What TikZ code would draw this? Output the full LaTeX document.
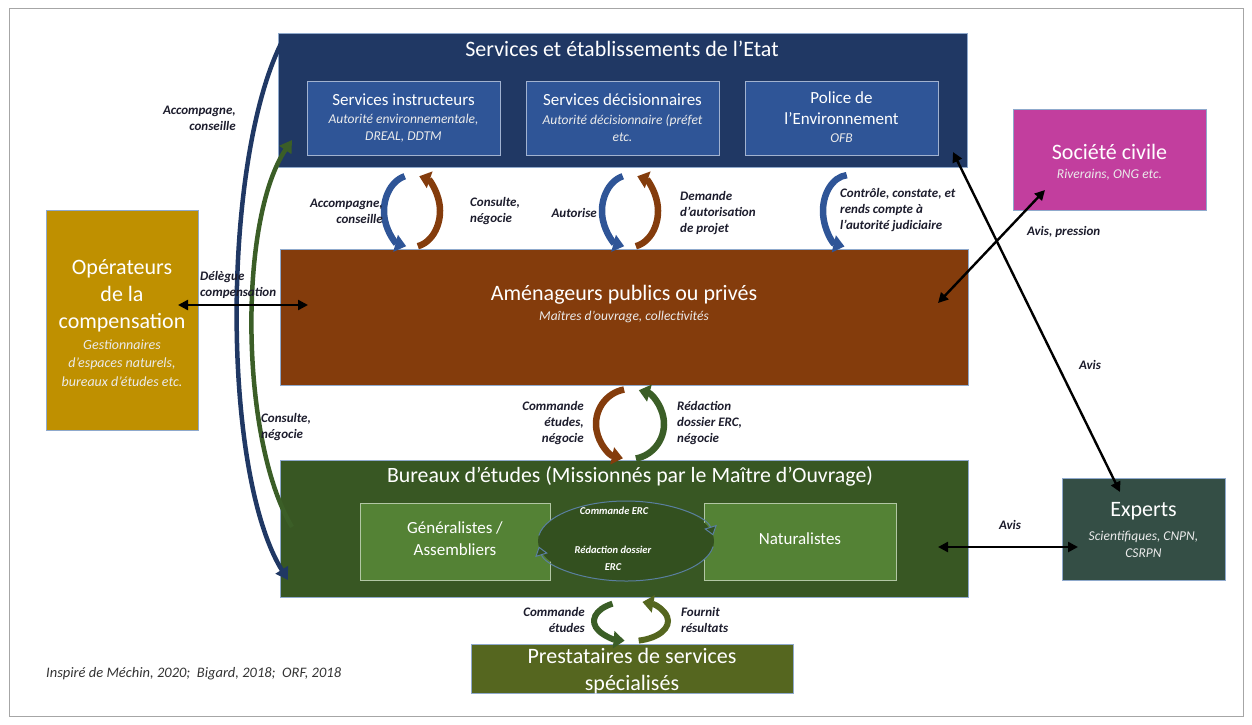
\documentclass[tikz,border=0pt]{standalone}
\usepackage{fontspec}
\setmainfont{Carlito}
\usetikzlibrary{arrows.meta}
\definecolor{navy}{HTML}{203864}
\definecolor{subblue}{HTML}{2F5597}
\definecolor{brownA}{HTML}{843C0C}
\definecolor{gold}{HTML}{BF9000}
\definecolor{darkgreen}{HTML}{385723}
\definecolor{arcgreen}{HTML}{3B5E27}
\definecolor{midgreen}{HTML}{548235}
\definecolor{olive}{HTML}{55661F}
\definecolor{magentaS}{HTML}{C23E9E}
\definecolor{slateE}{HTML}{344E45}
\definecolor{labc}{HTML}{1C1C2C}
\definecolor{edgec}{HTML}{8FA9CC}
\definecolor{ringc}{HTML}{5A7FA0}
\definecolor{ellfill}{HTML}{33501F}
\begin{document}
\begin{tikzpicture}[x=1pt,y=-1pt,
  box/.style={draw=edgec, line width=0.6pt, inner sep=0pt},
  subbox/.style={draw=white!55!subblue, line width=0.8pt, fill=subblue, inner sep=0pt, minimum width=193pt, minimum height=74pt},
  greenbox/.style={draw=white!55!midgreen, line width=0.8pt, fill=midgreen, inner sep=0pt},
  ttl/.style={text=white, inner sep=0pt, align=center},
  sub/.style={text=white!92!black, inner sep=0pt, align=center, font=\fontsize{13.5}{17}\selectfont\itshape},
  lab/.style={font=\fontsize{13}{16}\selectfont\bfseries\itshape, text=labc, inner sep=0pt},
  circarr/.style={line width=6.5pt, -{Triangle[width=17pt,length=11pt]}},
  bigarr/.style={line width=4.5pt, -{Triangle[width=14pt,length=12pt]}},
  blackarr/.style={line width=2.4pt, {Triangle[width=10pt,length=10pt]}-{Triangle[width=10pt,length=10pt]}},
  ringarr/.style={draw=ringc, line width=1pt, -{Triangle[width=13pt,length=9pt,fill=ellfill]}}
]
\useasboundingbox (0,0) rectangle (1252,724);
\draw[gray!70, line width=0.8pt] (9,8) rectangle (1243,716);

% ---- Etat
\node[box, fill=navy, minimum width=689pt, minimum height=134pt] (etat) at (622.5,100) {};
\node[ttl, font=\fontsize{22}{26}\selectfont] (etatT) at (622,49) {Services et établissements de l’Etat};
\node[subbox] (si) at (403.5,118) {};
\node[subbox] (sd) at (622.5,118) {};
\node[subbox] (pe) at (841.5,118) {};
\node[ttl, font=\fontsize{17}{21}\selectfont] (siT) at (403.5,100) {Services instructeurs};
\node[sub] (siS) at (403.5,128) {Autorité environnementale,\\DREAL, DDTM};
\node[ttl, font=\fontsize{17}{21}\selectfont] (sdT) at (622.5,100) {Services décisionnaires};
\node[sub] (sdS) at (622.5,128) {Autorité décisionnaire (préfet\\etc.};
\node[ttl, font=\fontsize{17}{21}\selectfont] (peT) at (841.5,108) {Police de\\l’Environnement};
\node[sub] (peS) at (841.5,138) {OFB};

% ---- Amenageurs
\node[box, fill=brownA, minimum width=688pt, minimum height=136pt] (amen) at (624,317) {};
\node[ttl, font=\fontsize{22}{26}\selectfont] (amenT) at (624,295) {Aménageurs publics ou privés};
\node[sub] (amenS) at (624,317) {Maîtres d’ouvrage, collectivités};

% ---- Operateurs
\node[box, fill=gold, minimum width=152pt, minimum height=220pt] (oper) at (122,320) {};
\node[ttl, font=\fontsize{22}{27}\selectfont] (operT) at (122,296) {Opérateurs\\de la\\compensation};
\node[sub, font=\fontsize{14}{18.5}\selectfont\itshape] (operS) at (122,363) {Gestionnaires\\d’espaces naturels,\\bureaux d’études etc.};

% ---- Bureaux
\node[box, fill=darkgreen, minimum width=688pt, minimum height=137pt] (bur) at (624,528.5) {};
\node[ttl, font=\fontsize{21.8}{25}\selectfont] (burT) at (630,476) {Bureaux d’études (Missionnés par le Maître d’Ouvrage)};
\node[greenbox, minimum width=190pt, minimum height=77pt] (gen) at (455,541.5) {};
\node[greenbox, minimum width=192pt, minimum height=77pt] (nat) at (800,541.5) {};
\node[ttl, font=\fontsize{17}{22}\selectfont] (genT) at (455,539) {Généralistes /\\Assembliers};
\node[ttl, font=\fontsize{17}{22}\selectfont] (natT) at (800,539) {Naturalistes};

% ---- Prestataires
\node[box, fill=olive, minimum width=322pt, minimum height=49pt] (prest) at (632,668.5) {};
\node[ttl, font=\fontsize{22}{27}\selectfont] (prestT) at (632,671) {Prestataires de services\\spécialisés};

% ---- Societe civile
\node[box, fill=magentaS, minimum width=193pt, minimum height=101pt] (soc) at (1109.5,159.5) {};
\node[ttl, font=\fontsize{22}{26}\selectfont] (socT) at (1109.5,152) {Société civile};
\node[sub] (socS) at (1109.5,175) {Riverains, ONG etc.};

% ---- Experts
\node[box, fill=slateE, minimum width=163pt, minimum height=102pt] (exp) at (1143.5,529) {};
\node[ttl, font=\fontsize{22}{26}\selectfont] (expT) at (1143.5,511) {Experts};
\node[sub] (expS) at (1143.5,544) {Scientifiques, CNPN,\\CSRPN};

% ---- circular arrows Etat / Amenageurs
\draw[circarr, draw=subblue] (412,211) ++(255:28 and 36) arc[start angle=255, end angle=102, x radius=28, y radius=36];
\draw[circarr, draw=brownA] (412,211) ++(78:28 and 36) arc[start angle=78, end angle=-75, x radius=28, y radius=36];
\draw[circarr, draw=subblue] (630,211) ++(255:28 and 36) arc[start angle=255, end angle=102, x radius=28, y radius=36];
\draw[circarr, draw=brownA] (630,211) ++(78:28 and 36) arc[start angle=78, end angle=-75, x radius=28, y radius=36];
\draw[circarr, draw=subblue] (849,211) ++(265:26 and 36) arc[start angle=265, end angle=100, x radius=26, y radius=36];

% ---- circular arrows Amenageurs / Bureaux
\draw[circarr, draw=brownA] (630,424) ++(260:34 and 35) arc[start angle=260, end angle=102, x radius=34, y radius=35];
\draw[circarr, draw=arcgreen] (630,424) ++(80:34 and 35) arc[start angle=80, end angle=-75, x radius=34, y radius=35];

% ---- circular arrows Bureaux / Prestataires
\draw[circarr, line width=6pt, draw=arcgreen] (631,621) ++(240:37 and 20) arc[start angle=240, end angle=100, x radius=37, y radius=20];
\draw[circarr, line width=6pt, draw=olive] (631,621) ++(78:37 and 20) arc[start angle=78, end angle=-72, x radius=37, y radius=20];

% ---- ring inside Bureaux
\fill[ellfill] (626,541) ellipse[x radius=88, y radius=40];
\draw[ringarr] (626,541) ++(188:88 and 40) arc[start angle=188, end angle=352, x radius=88, y radius=40];
\draw[ringarr] (626,541) ++(8:88 and 40) arc[start angle=8, end angle=172, x radius=88, y radius=40];
\node[inner sep=0pt, text=white, font=\fontsize{10.5}{13}\selectfont\bfseries\itshape] (ercA) at (614,511) {Commande ERC};
\node[inner sep=0pt, text=white, align=center, font=\fontsize{10.5}{17}\selectfont\bfseries\itshape] (ercB) at (613,558) {Rédaction dossier\\ERC};

% ---- long left arcs
\coordinate (blA) at (285,36);
\coordinate (blB) at (288,580);
\coordinate (grA) at (292,527);
\coordinate (grB) at (292,140);
\draw[bigarr, draw=navy] (blA) .. controls (222,150) and (220,470) .. (blB);
\draw[bigarr, draw=arcgreen] (grA) .. controls (240,440) and (238,220) .. (grB);

% ---- black arrows
\coordinate (dA) at (178,305);
\coordinate (dB) at (308,305);
\draw[blackarr] (dA) -- (dB);
\coordinate (apA) at (938,303);
\coordinate (apB) at (1045,190);
\draw[blackarr] (apA) -- (apB);
\coordinate (avA) at (953,152);
\coordinate (avB) at (1120,492);
\draw[blackarr] (avA) -- (avB);
\coordinate (exA) at (938,547);
\coordinate (exB) at (1078,547);
\draw[blackarr] (exA) -- (exB);

% ---- labels
\node[lab, align=right, anchor=east] (l1) at (236,118) {Accompagne,\\conseille};
\node[lab, align=left, anchor=west] (l2) at (261,427) {Consulte,\\négocie};
\node[lab, align=left, anchor=west] (l3) at (200,285) {Délègue\\compensation};
\node[lab, align=right, anchor=east] (l4) at (383,211) {Accompagne,\\conseille};
\node[lab, align=left, anchor=west] (l5) at (470,211) {Consulte,\\négocie};
\node[lab, anchor=east] (l6) at (597,213) {Autorise};
\node[lab, align=left, anchor=west] (l7) at (680,213) {Demande\\d’autorisation\\de projet};
\node[lab, align=left, anchor=west] (l8) at (840,210) {Contrôle, constate, et\\rends compte à\\l’autorité judiciaire};
\node[lab, align=right, anchor=east] (l9) at (584,423) {Commande\\études,\\négocie};
\node[lab, align=left, anchor=west] (l10) at (677,423) {Rédaction\\dossier ERC,\\négocie};
\node[lab, align=right, anchor=east] (l11) at (585,620) {Commande\\études};
\node[lab, align=left, anchor=west] (l12) at (681,620) {Fournit\\résultats};
\node[lab, anchor=west] (l13) at (1027,232) {Avis, pression};
\node[lab] (l14) at (1090,365) {Avis};
\node[lab] (l15) at (1010,525) {Avis};
\node[inner sep=0pt, anchor=west, text=black!80, font=\fontsize{14.5}{17}\selectfont\itshape] (cred) at (46,674) {Inspiré de Méchin, 2020;\ \ Bigard, 2018;\ \ ORF, 2018};
\end{tikzpicture}
\end{document}
